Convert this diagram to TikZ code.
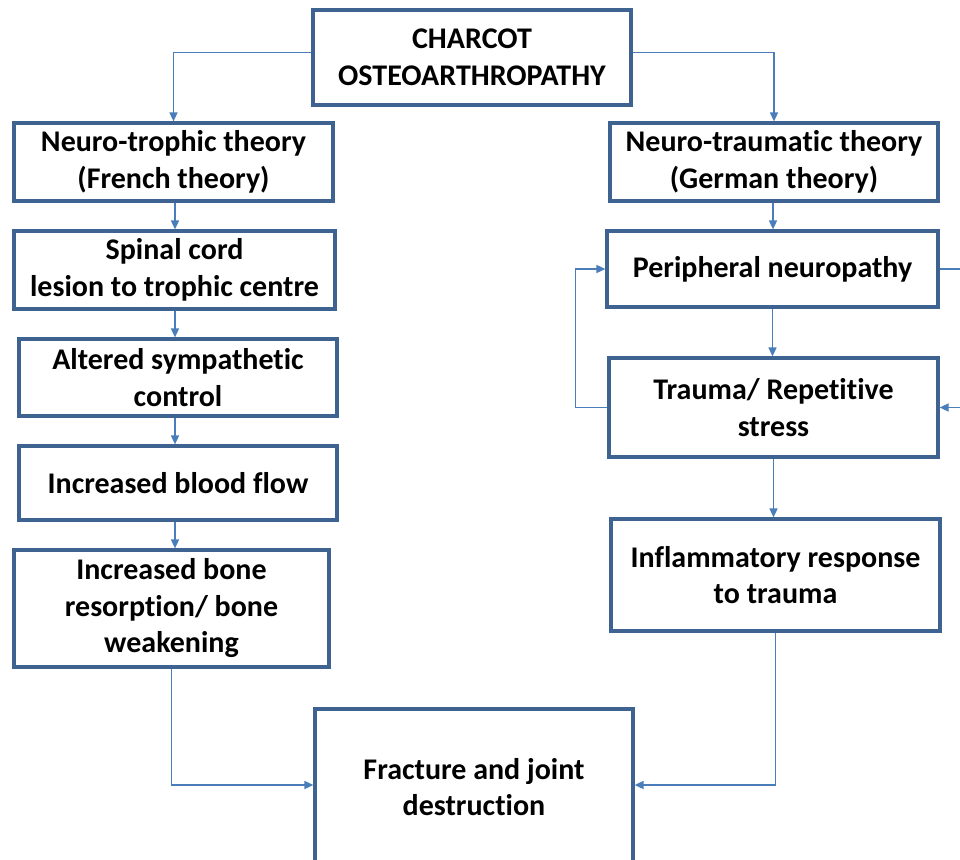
\documentclass[tikz,border=0pt]{standalone}
\usepackage{fontspec}
\setmainfont{Carlito}[Ligatures=NoCommon]
\usetikzlibrary{arrows.meta}
\definecolor{boxblue}{HTML}{3F6391}
\definecolor{lineblue}{HTML}{4A7EBB}
\begin{document}
\begin{tikzpicture}[x=1pt,y=-1pt,
  box/.style={draw=boxblue, line width=3.2pt, fill=white, align=center, inner sep=2pt,
    font=\fontsize{30}{36.5}\selectfont\bfseries},
  conn/.style={draw=lineblue, line width=1.6pt},
  arr/.style={conn, -{Triangle[length=9pt,width=8pt]}}]
\useasboundingbox[fill=white] (0,0) rectangle (960,859);
\node[box, minimum width=318, minimum height=95] (charcot) at (472,57.5) {CHARCOT\\OSTEOARTHROPATHY};
\node[box, minimum width=319, minimum height=78] (trophic) at (173.5,162) {Neuro-trophic theory\\(French theory)};
\node[box, minimum width=328, minimum height=78] (traumatic) at (774,162) {Neuro-traumatic theory\\(German theory)};
\node[box, minimum width=321, minimum height=78] (spinal) at (174.5,270) {Spinal cord\\lesion to trophic centre};
\node[box, minimum width=318, minimum height=77] (altered) at (178,377.5) {Altered sympathetic\\control};
\node[box, minimum width=318, minimum height=74] (blood) at (178,483) {Increased blood flow};
\node[box, minimum width=315, minimum height=117] (bone) at (171.5,608.5) {Increased bone\\resorption/ bone\\weakening};
\node[box, minimum width=331, minimum height=76] (periph) at (772.5,269) {Peripheral neuropathy};
\node[box, minimum width=329, minimum height=99] (trauma) at (773.5,407.5) {Trauma/ Repetitive\\stress};
\node[box, minimum width=329, minimum height=112] (inflam) at (775.5,575) {Inflammatory response\\to trauma};
\node[box, minimum width=318, minimum height=156] (fracture) at (474,787) {Fracture and joint\\destruction};
\coordinate (rtop) at (962,269);
\coordinate (rbot) at (962,407.5);
\draw[arr] ([yshift=5pt]charcot.west) -| (trophic.north);
\draw[arr] ([yshift=5pt]charcot.east) -| (traumatic.north);
\draw[arr] ([xshift=1.5pt]trophic.south) -- ([xshift=1.5pt]trophic.south |- spinal.north);
\draw[arr] ([xshift=0.5pt]spinal.south) -- ([xshift=0.5pt]spinal.south |- altered.north);
\draw[arr] ([xshift=-3pt]altered.south) -- ([xshift=-3pt]altered.south |- blood.north);
\draw[arr] ([xshift=-3pt]blood.south) -- ([xshift=-3pt]blood.south |- bone.north);
\draw[arr] ([xshift=-1pt]traumatic.south) -- ([xshift=-1pt]traumatic.south |- periph.north);
\draw[arr] (periph.south) -- (periph.south |- trauma.north);
\draw[arr] (trauma.south) -- (trauma.south |- inflam.north);
\draw[arr] (trauma.west) -- ++(-32,0) |- (periph.west);
\draw[conn] (periph.east) -- (rtop);
\draw[arr] (rbot) -- (trauma.east);
\draw[arr] (bone.south) |- ([yshift=2pt]fracture.west);
\draw[arr] (inflam.south) |- ([yshift=2pt]fracture.east);
\end{tikzpicture}
\end{document}
